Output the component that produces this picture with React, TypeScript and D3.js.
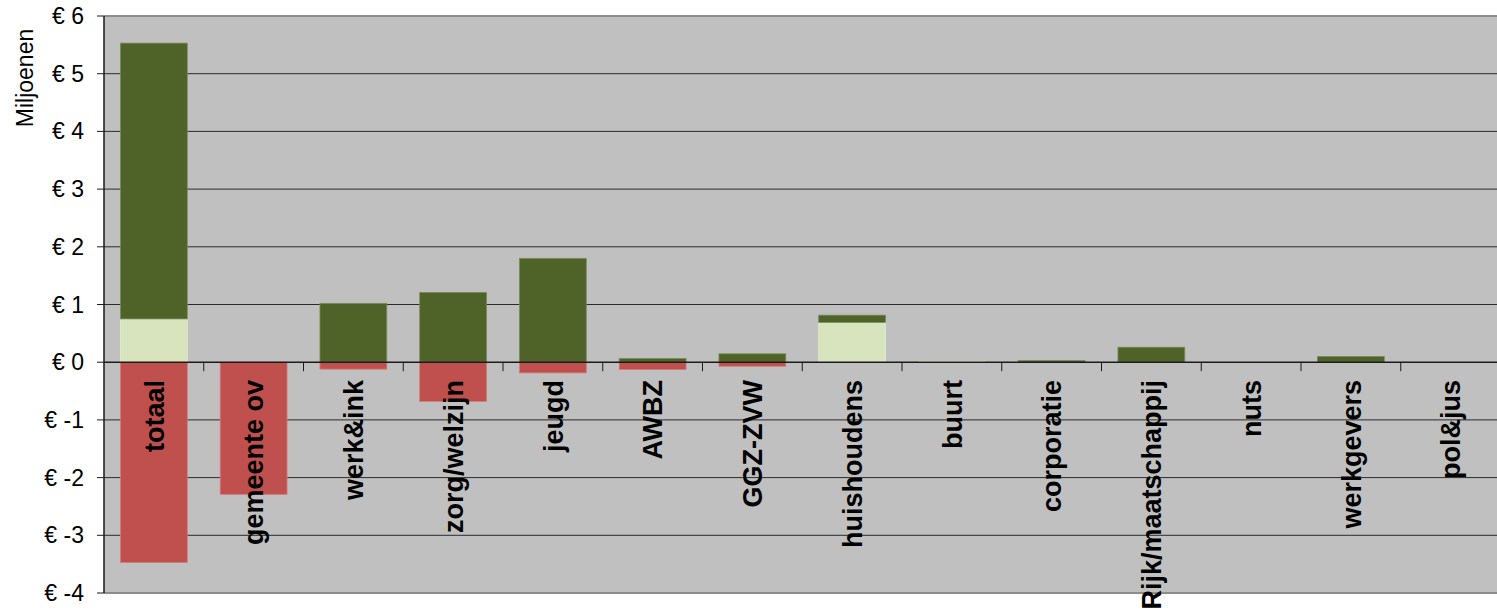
import React from "react";
import * as d3 from "d3";

const categories = [
  "totaal",
  "gemeente ov",
  "werk&ink",
  "zorg/welzijn",
  "jeugd",
  "AWBZ",
  "GGZ-ZVW",
  "huishoudens",
  "buurt",
  "corporatie",
  "Rijk/maatschappij",
  "nuts",
  "werkgevers",
  "pol&jus",
];

// Positive part, bottom segment (light green)
const lightGreen = [0.75, 0, 0, 0, 0, 0, 0, 0.69, 0.012, 0, 0, 0, 0, 0];
// Positive part, stacked on top (dark green)
const darkGreen = [4.78, 0, 1.02, 1.21, 1.8, 0.064, 0.145, 0.125, 0, 0.03, 0.26, 0, 0.1, 0];
// Negative part (red)
const red = [-3.47, -2.29, -0.12, -0.68, -0.185, -0.127, -0.07, 0, 0, 0, 0, 0, 0, 0];

const yTicks = [-4, -3, -2, -1, 0, 1, 2, 3, 4, 5, 6];

const W = 1497;
const H = 614;
const left = 104;
const step = 99.75;
const top = 16;
const bottom = 593;

const FONT = "'Liberation Sans', Arial, sans-serif";

export default function App() {
  const x = d3
    .scaleBand<string>()
    .domain(categories)
    .range([left, left + step * categories.length])
    .paddingInner(0.33)
    .paddingOuter(0.165);
  const y = d3.scaleLinear().domain([-4, 6]).range([bottom, top]);
  const bw = x.bandwidth();
  const right = left + step * categories.length;

  return (
    <svg
      width={W}
      height={H}
      style={{ position: "absolute", left: 0, top: 0, background: "#fff" }}
    >
      <rect x={left} y={top} width={right - left} height={bottom - top} fill="#c0c0c0" />
      {/* gridlines */}
      {yTicks
        .filter((t) => t !== 0 && t !== 6 && t !== -4)
        .map((t) => (
          <line key={"g" + t} x1={left} x2={right} y1={y(t)} y2={y(t)} stroke="#2a2a2a" strokeWidth={1} />
        ))}
      <line x1={left} x2={right} y1={y(6)} y2={y(6)} stroke="#8c8c8c" strokeWidth={2} />
      <line x1={left} x2={right} y1={y(-4)} y2={y(-4)} stroke="#8c8c8c" strokeWidth={2} />

      {/* bars */}
      {categories.map((c, i) => {
        const bx = x(c)!;
        const els: React.ReactNode[] = [];
        if (red[i] < 0) {
          els.push(
            <rect key="r" x={bx} y={y(0)} width={bw} height={y(red[i]) - y(0)} fill="#c0504d" stroke="#d27b78" strokeWidth={0.8} />
          );
        }
        if (lightGreen[i] > 0) {
          els.push(
            <rect key="l" x={bx} y={y(lightGreen[i])} width={bw} height={y(0) - y(lightGreen[i])} fill="#d7e4bd" stroke="#e4edd2" strokeWidth={0.8} />
          );
        }
        if (darkGreen[i] > 0) {
          const b0 = lightGreen[i];
          const b1 = b0 + darkGreen[i];
          els.push(
            <rect key="d" x={bx} y={y(b1)} width={bw} height={y(b0) - y(b1)} fill="#4f6228" stroke="#7a8a5c" strokeWidth={0.8} />
          );
        }
        return <g key={c}>{els}</g>;
      })}

      {/* y axis */}
      <line x1={left} x2={left} y1={top} y2={bottom} stroke="#1a1a1a" strokeWidth={1.5} />
      {yTicks.map((t) => (
        <g key={"yt" + t}>
          <line x1={left - 7} x2={left} y1={y(t)} y2={y(t)} stroke="#1a1a1a" strokeWidth={1} />
          <text
            x={84}
            y={y(t)}
            textAnchor="end"
            dominantBaseline="central"
            fontFamily={FONT}
            fontSize={23}
            fill="#000"
          >
            {"€ " + t}
          </text>
        </g>
      ))}
      <text
        transform={`translate(33,78) rotate(-90)`}
        textAnchor="middle"
        fontFamily={FONT}
        fontSize={23}
        fill="#000"
      >
        Miljoenen
      </text>

      {/* zero axis */}
      <line x1={left} x2={right} y1={y(0)} y2={y(0)} stroke="#1a1a1a" strokeWidth={1.5} />
      {d3.range(1, categories.length + 1).map((k) => (
        <line
          key={"xt" + k}
          x1={left + k * step}
          x2={left + k * step}
          y1={y(0)}
          y2={y(0) + 9}
          stroke="#1a1a1a"
          strokeWidth={1}
        />
      ))}

      {/* category labels */}
      {categories.map((c) => {
        const cx = x(c)! + bw / 2;
        return (
          <text
            key={"lab" + c}
            transform={`translate(${cx},380) rotate(-90)`}
            textAnchor="end"
            dy="0.36em"
            fontFamily={FONT}
            fontSize={27}
            fontWeight="bold"
            fill="#000"
          >
            {c}
          </text>
        );
      })}
    </svg>
  );
}
